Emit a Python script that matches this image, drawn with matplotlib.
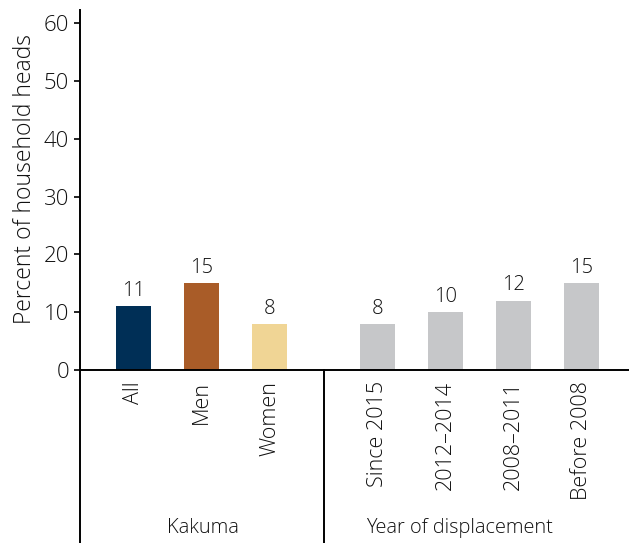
import matplotlib.pyplot as plt
from matplotlib.lines import Line2D

plt.rcParams['font.family'] = ['Open Sans', 'DejaVu Sans']
plt.rcParams['font.weight'] = 'light'

categories = ['All', 'Men', 'Women', 'Since 2015', '2012\u20132014', '2008\u20132011', 'Before 2008']
values = [11, 15, 8, 8, 10, 12, 15]
colors = ['#002f56', '#a95c28', '#f0d595', '#c6c7c9', '#c6c7c9', '#c6c7c9', '#c6c7c9']
groups = ['Kakuma', 'Year of displacement']

# bar positions: two groups with a wider gap between them
pos = [0, 1, 2, 3.58, 4.58, 5.58, 6.58]
text_col = '#111111'

fig = plt.figure(figsize=(6.29, 5.43), dpi=100)
ax = fig.add_axes([0.1272, 0.3186, 0.8728, 0.663])

bars = ax.bar(pos, values, width=0.51, color=colors)
for b, v in zip(bars, values):
    ax.text(b.get_x() + b.get_width() / 2, v + 0.9, str(v), ha='center', va='bottom',
            fontsize=14.5, color=text_col)

ax.set_xlim(-0.79, 7.28)
ax.set_ylim(0, 62.3)
ax.set_yticks([0, 10, 20, 30, 40, 50, 60])
ax.tick_params(axis='y', labelsize=16, colors=text_col, length=4, width=1.3, pad=4)
ax.tick_params(axis='x', length=0, pad=8)
ax.set_xticks(pos)
ax.set_xticklabels(categories, rotation=90, fontsize=15.5, color=text_col, va='top')
ax.set_ylabel('Percent of household heads', fontsize=16.5, color=text_col, labelpad=5,
              fontweight='light')
ax.yaxis.label.set_y(0.53)

for s in ['top', 'right']:
    ax.spines[s].set_visible(False)
for s in ['left', 'bottom']:
    ax.spines[s].set_linewidth(1.4)
    ax.spines[s].set_color('black')

# group dividers below the axis
trans = ax.get_xaxis_transform()
sep = (pos[2] + pos[3]) / 2
for x in [-0.79, sep]:
    ax.add_line(Line2D([x, x], [0, -0.52], transform=trans, color='black',
                       linewidth=1.4, clip_on=False))

ax.text(1.02, -0.44, groups[0], transform=trans, ha='center', va='center',
        fontsize=14.4, color=text_col)
ax.text(4.79, -0.44, groups[1], transform=trans, ha='center', va='center',
        fontsize=14.4, color=text_col)

fig.savefig('out.png', dpi=100)
